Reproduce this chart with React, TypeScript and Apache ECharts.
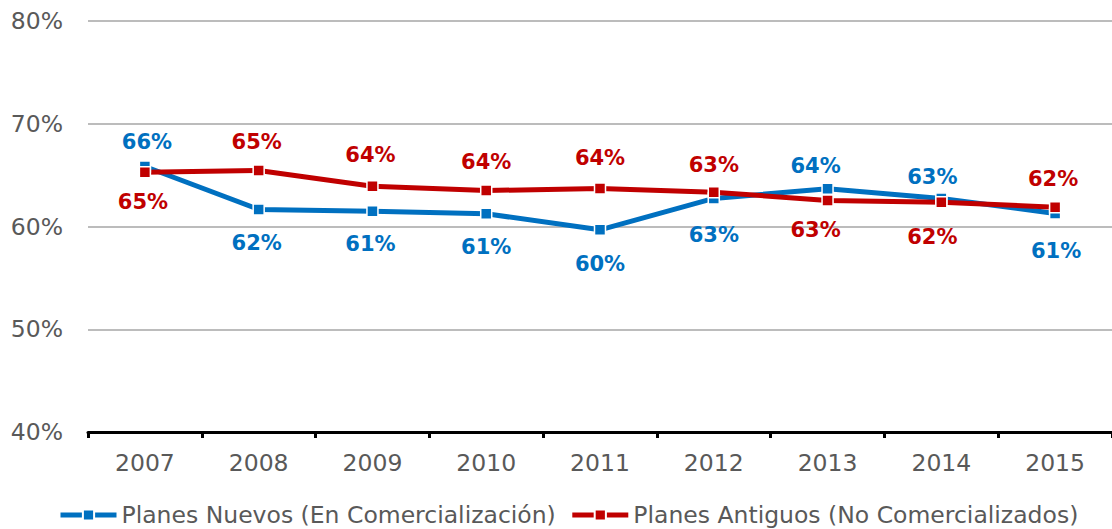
import React, { useEffect, useRef } from "react";
import * as echarts from "echarts";

const years = ["2007", "2008", "2009", "2010", "2011", "2012", "2013", "2014", "2015"];
const nuevos = [65.84, 61.66, 61.49, 61.24, 59.68, 62.73, 63.67, 62.73, 61.27];
const antiguos = [65.29, 65.45, 63.92, 63.5, 63.7, 63.34, 62.53, 62.37, 61.88];
const seriesNames = ["Planes Nuevos (En Comercialización)", "Planes Antiguos (No Comercializados)"];

// label placement (x, y offsets from the point)
const nuevosLabelOffset = [[2, -24], [-2, 34], [-2, 33], [0, 33], [0, 34], [0, 37], [-12, -23], [-9, -21], [1, 38]];
const antiguosLabelOffset = [[-2, 30], [-2, -29], [-2, -31], [0, -29], [0, -30], [0, -27], [-12, 29], [-9, 35], [-2, -28]];

const BLUE = "#0070C0";
const RED = "#C00000";
const FONT = "DejaVu Sans";

function makeSeries(name: string, values: number[], offsets: number[][], color: string) {
  return {
    name,
    type: "line",
    data: values.map((v, i) => ({
      value: v,
      label: { offset: offsets[i] },
    })),
    symbol: "rect",
    symbolSize: 11,
    lineStyle: { color, width: 5 },
    itemStyle: { color, borderColor: "#ffffff", borderWidth: 1.5 },
    label: {
      show: true,
      position: "inside",
      color,
      fontFamily: FONT,
      fontWeight: "bold",
      fontSize: 21,
      formatter: (p: any) => Math.round(p.value) + "%",
    },
    emphasis: { disabled: true },
  };
}

export default function App() {
  const ref = useRef<HTMLDivElement>(null);
  useEffect(() => {
    const chart = echarts.init(ref.current!, undefined, { renderer: "svg" });
    chart.setOption({
      animation: false,
      backgroundColor: "#ffffff",
      grid: { left: 88, right: 0, top: 21, bottom: 97 },
      legend: {
        left: 53,
        top: 497,
        itemWidth: 56,
        itemHeight: 14,
        itemGap: 14,
        lineStyle: { width: 5 },
        textStyle: { fontFamily: FONT, fontSize: 23.5, color: "#595959", lineHeight: 26 },
        data: seriesNames,
      },
      xAxis: {
        type: "category",
        data: years,
        axisLine: { lineStyle: { color: "#000000", width: 3 } },
        axisTick: { show: true, length: 6, lineStyle: { color: "#000000", width: 3 } },
        axisLabel: { fontFamily: FONT, fontSize: 23.5, color: "#595959", margin: 19 },
      },
      yAxis: {
        type: "value",
        min: 40,
        max: 80,
        interval: 10,
        axisLine: { show: false },
        axisTick: { show: false },
        splitLine: { lineStyle: { color: "#a6a6a6", width: 1.5 } },
        axisLabel: {
          fontFamily: FONT,
          fontSize: 23.5,
          color: "#595959",
          margin: 25,
          formatter: (v: number) => v + "%",
        },
      },
      series: [
        makeSeries(seriesNames[0], nuevos, nuevosLabelOffset, BLUE),
        makeSeries(seriesNames[1], antiguos, antiguosLabelOffset, RED),
      ],
    });
    return () => chart.dispose();
  }, []);
  return (
    <div
      ref={ref}
      style={{ position: "fixed", left: 0, top: 0, width: 1112, height: 529, background: "#fff" }}
    />
  );
}
